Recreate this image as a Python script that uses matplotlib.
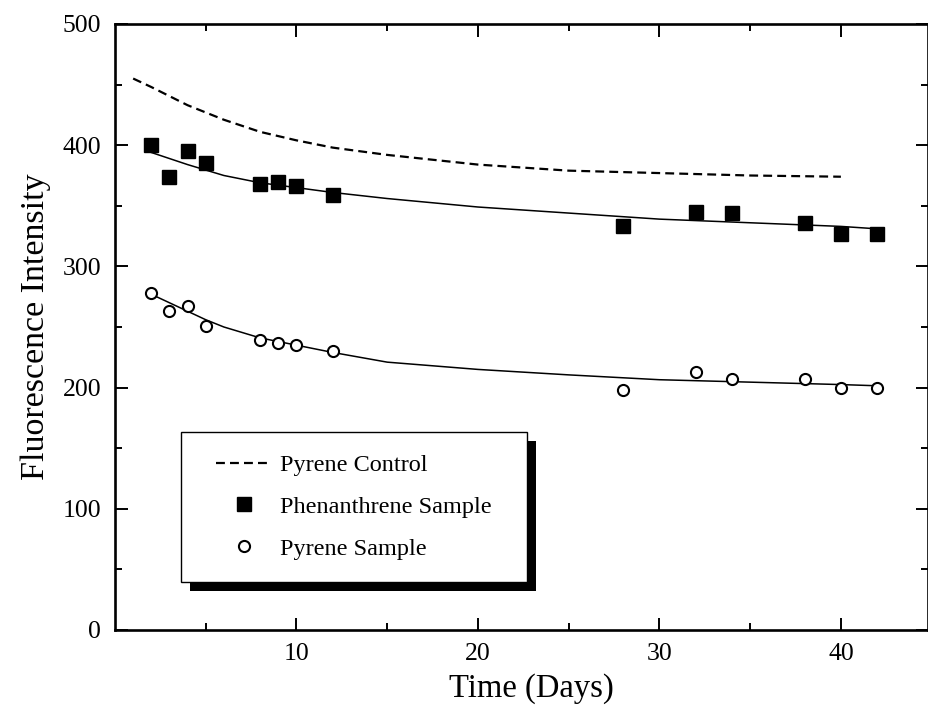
import numpy as np
import matplotlib
matplotlib.use("Agg")
import matplotlib.pyplot as plt
from matplotlib.patches import Rectangle

plt.rcParams['font.family'] = ['Liberation Serif', 'DejaVu Serif']

# jours de mesure
days = [2, 3, 4, 5, 8, 9, 10, 12, 28, 32, 34, 38, 40, 42]
phen_sample = [400, 374, 395, 385, 368, 370, 366, 359, 333, 345, 344, 336, 327, 327]
pyr_sample = [278, 263, 267, 251, 239, 237, 235, 230, 198, 213, 207, 207, 200, 200]

# courbes lissées
control_x = [1, 2, 4, 6, 8, 10, 12, 15, 20, 25, 30, 35, 40]
control_y = [455, 448, 433, 421, 411, 404, 398, 392, 384, 379, 377, 375, 374]
phen_fit_x = [2, 4, 6, 8, 10, 12, 15, 20, 25, 30, 35, 40, 42]
phen_fit_y = [394, 384, 375, 369, 365, 361, 356, 349, 344, 339, 336, 333, 331]
pyr_fit_x = [2, 3, 4, 5, 6, 8, 10, 12, 15, 20, 25, 30, 35, 40, 42]
pyr_fit_y = [277, 270, 263, 256, 250, 241, 235, 229, 221, 215, 210.5, 206.5, 204.5, 202.5, 201.5]

fig = plt.figure(figsize=(9.29, 7.10), dpi=100)
ax = fig.add_axes([115 / 929, 1 - 630 / 710, (928 - 115) / 929, (630 - 24) / 710])

ax.plot(control_x, control_y, color='black', lw=1.6, linestyle=(0, (4, 2.3)), label='Pyrene Control')
ax.plot(phen_fit_x, phen_fit_y, color='black', lw=1.1)
ax.plot(pyr_fit_x, pyr_fit_y, color='black', lw=1.1)
ax.plot(days, phen_sample, 's', color='black', markersize=9.5, label='Phenanthrene Sample')
ax.plot(days, pyr_sample, 'o', markerfacecolor='white', markeredgecolor='black',
        markeredgewidth=1.5, markersize=8, label='Pyrene Sample')

ax.set_xlim(0, 44.8)
ax.set_ylim(0, 500)
ax.set_xticks([10, 20, 30, 40])
ax.set_xticks([5, 15, 25, 35], minor=True)
ax.set_yticks([0, 100, 200, 300, 400, 500])
ax.set_yticks([50, 150, 250, 350, 450], minor=True)
ax.tick_params(which='both', direction='in', top=True, right=True, labelsize=18.5, width=1.4)
ax.tick_params(which='major', length=9)
ax.tick_params(which='minor', length=5)
ax.tick_params(axis='y', pad=10)
ax.tick_params(axis='x', pad=9)
for s in ax.spines.values():
    s.set_linewidth(1.9)

ax.set_xlabel('Time (Days)', fontsize=23.5)
ax.xaxis.set_label_coords(0.5 + 10 / 813, -0.071)
ax.set_ylabel('Fluorescence Intensity', fontsize=24.5, labelpad=8)

# légende sans cadre, cadre + ombre dessinés à la main
leg = ax.legend(loc='upper left', bbox_to_anchor=(101 / 813, 176 / 606),
                frameon=False, fontsize=17.5, borderpad=0,
                labelspacing=0.82, handlelength=2.3, handletextpad=0.35,
                borderaxespad=0)
leg.set_zorder(6)

box_x0, box_y0 = 66 / 813, 48 / 606
box_w, box_h = 346 / 813, 150 / 606
ax.add_patch(Rectangle((box_x0 + 9 / 813, box_y0 - 9 / 606), box_w, box_h, transform=ax.transAxes,
                       facecolor='black', edgecolor='none', zorder=4))
ax.add_patch(Rectangle((box_x0, box_y0), box_w, box_h, transform=ax.transAxes,
                       facecolor='white', edgecolor='black', lw=1.0, zorder=5))

fig.savefig('out.png', dpi=100)
